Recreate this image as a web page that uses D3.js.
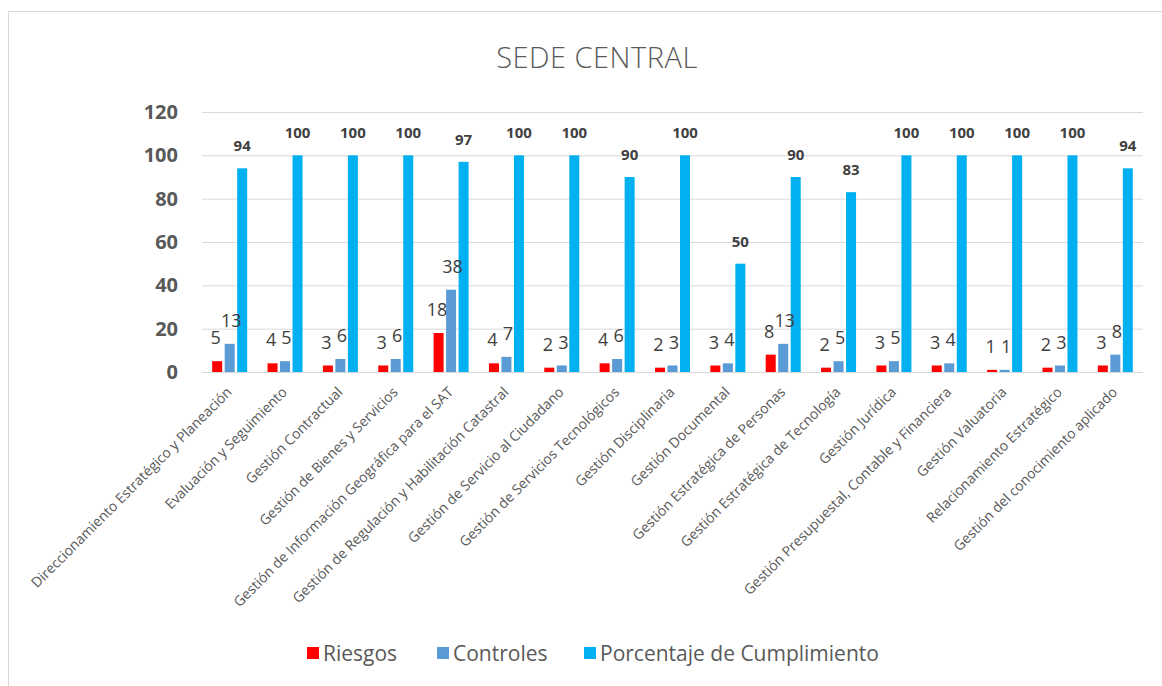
<!DOCTYPE html>
<html>
<head>
<meta charset="utf-8">
<script src="https://cdn.jsdelivr.net/npm/d3@7"></script>
<style>
  body { margin: 0; background: #fff; }
  #graph { width: 1162px; height: 686px; }
  text { font-family: "Open Sans", "Noto Sans", sans-serif; }
</style>
</head>
<body>
<div id="graph"></div>
<script>
// Data
var categorias = [
  "Direccionamiento Estratégico y Planeación",
  "Evaluación y Seguimiento",
  "Gestión Contractual",
  "Gestión de Bienes y Servicios",
  "Gestión de Información Geográfica para el SAT",
  "Gestión de Regulación y Habilitación Catastral",
  "Gestión de Servicio al Ciudadano",
  "Gestión de Servicios Tecnológicos",
  "Gestión Disciplinaria",
  "Gestión Documental",
  "Gestión Estratégica de Personas",
  "Gestión Estratégica de Tecnología",
  "Gestión Jurídica",
  "Gestión Presupuestal, Contable y Financiera",
  "Gestión Valuatoria",
  "Relacionamiento Estratégico",
  "Gestión del conocimiento aplicado"
];
var riesgos    = [5, 4, 3, 3, 18, 4, 2, 4, 2, 3, 8, 2, 3, 3, 1, 2, 3];
var controles  = [13, 5, 6, 6, 38, 7, 3, 6, 3, 4, 13, 5, 5, 4, 1, 3, 8];
var porcentaje = [94, 100, 100, 100, 97, 100, 100, 90, 100, 50, 90, 83, 100, 100, 100, 100, 94];
var series = ["Riesgos", "Controles", "Porcentaje de Cumplimiento"];
var yTicks = [0, 20, 40, 60, 80, 100, 120];

var colores = {"Riesgos": "#ff0000", "Controles": "#5b9bd5", "Porcentaje de Cumplimiento": "#00b0f0"};

var width = 1162, height = 686;
var plot = {left: 202, right: 1143, top: 112, bottom: 372};

var svg = d3.select("#graph")
    .append("svg")
    .attr("width", width)
    .attr("height", height);

// chart border
svg.append("rect")
    .attr("x", 8.5).attr("y", 11.5)
    .attr("width", 1200).attr("height", 700)
    .attr("fill", "none")
    .attr("stroke", "#d9d9d9");

// Scales
var x = d3.scaleBand()
    .domain(categorias)
    .range([plot.left, plot.right]);
var x1 = d3.scaleBand()
    .domain(series)
    .range([0, 35])
    .paddingInner(0.2);
var y = d3.scaleLinear()
    .domain([0, 120])
    .range([plot.bottom, plot.top]);

// Gridlines
svg.append("g")
    .attr("class", "grid")
    .attr("transform", "translate(" + plot.left + ",0)")
    .call(d3.axisLeft(y).tickValues(yTicks).tickSize(-(plot.right - plot.left)).tickFormat(""))
    .call(g => g.select(".domain").remove())
    .call(g => g.selectAll("line").attr("stroke", "#d9d9d9"));

// Y axis labels
svg.append("g")
    .attr("transform", "translate(178,0)")
    .call(d3.axisLeft(y).tickValues(yTicks).tickSize(0).tickPadding(0))
    .call(g => g.select(".domain").remove())
    .call(g => g.selectAll("text")
        .attr("fill", "#595959")
        .style("font-size", "20px")
        .style("font-weight", "bold")
        .style("font-family", "'Open Sans', sans-serif"));

// Bars
var valores = {"Riesgos": riesgos, "Controles": controles, "Porcentaje de Cumplimiento": porcentaje};
var grupo = svg.selectAll(".grupo")
    .data(categorias)
    .enter()
    .append("g")
    .attr("class", "grupo")
    .attr("transform", function(d) { return "translate(" + (x(d) + x.bandwidth() / 2 - 17.5) + ",0)"; });

grupo.selectAll("rect")
    .data(function(d, i) { return series.map(function(s) { return {s: s, v: valores[s][i]}; }); })
    .enter()
    .append("rect")
    .attr("x", function(d) { return x1(d.s); })
    .attr("width", x1.bandwidth())
    .attr("y", function(d) { return y(d.v); })
    .attr("height", function(d) { return plot.bottom - y(d.v); })
    .attr("fill", function(d) { return colores[d.s]; });

// data labels (Riesgos nudged left, Controles right so they touch less)
var nudge = {"Riesgos": -1.5, "Controles": 1.5, "Porcentaje de Cumplimiento": 0};
grupo.selectAll(".lbl")
    .data(function(d, i) { return series.map(function(s) { return {s: s, v: valores[s][i]}; }); })
    .enter()
    .append("text")
    .attr("class", "lbl")
    .attr("x", function(d) { return x1(d.s) + x1.bandwidth() / 2 + nudge[d.s]; })
    .attr("y", function(d) { return y(d.v) - 17; })
    .attr("text-anchor", "middle")
    .attr("fill", "#404040")
    .style("font-size", function(d) { return d.s == "Porcentaje de Cumplimiento" ? "15px" : "18px"; })
    .style("font-weight", function(d) { return d.s == "Porcentaje de Cumplimiento" ? "bold" : "normal"; })
    .text(function(d) { return d.v; });

// X axis labels
svg.append("g")
    .selectAll("text")
    .data(categorias)
    .enter()
    .append("text")
    .attr("transform", function(d) { return "translate(" + (x(d) + x.bandwidth() / 2 + 3) + ",393) rotate(-45)"; })
    .attr("text-anchor", "end")
    .attr("fill", "#595959")
    .style("font-size", "14px")
    .text(function(d) { return d; });

// Title
svg.append("text")
    .attr("x", 597)
    .attr("y", 68)
    .attr("text-anchor", "middle")
    .attr("fill", "#595959")
    .style("font-size", "29px")
    .style("font-weight", "300")
    .style("letter-spacing", "0.5px")
    .text("SEDE CENTRAL");

// Legend
var legendX = [307, 437, 584];
var legend = svg.selectAll(".legend")
    .data(series)
    .enter()
    .append("g")
    .attr("class", "legend")
    .attr("transform", function(d, i) { return "translate(" + legendX[i] + ",647)"; });

legend.append("rect")
    .attr("width", 12)
    .attr("height", 12)
    .attr("fill", function(d) { return colores[d]; });

legend.append("text")
    .attr("x", 16)
    .attr("y", 13.5)
    .attr("fill", "#595959")
    .style("font-size", "21px")
    .text(function(d) { return d; });
</script>
</body>
</html>
